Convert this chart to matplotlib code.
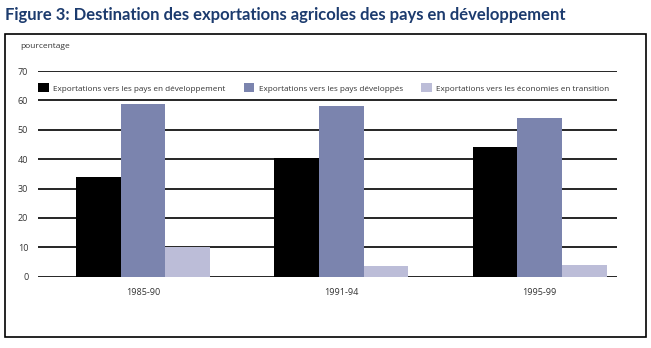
import numpy as np
import matplotlib.pyplot as plt
from matplotlib.patches import Rectangle

# Données
periodes = ["1985-90", "1991-94", "1995-99"]
vers_pays_dev = [34, 40.4, 44.1]
vers_pays_developpes = [58.8, 58.2, 54]
vers_transition = [10.1, 3.6, 4.0]
series_noms = ["Exportations vers les pays en développement",
               "Exportations vers les pays développés",
               "Exportations vers les économies en transition"]
couleurs = ["#000000", "#7b84ae", "#bcbdd8"]

plt.rcParams['font.family'] = ['Open Sans', 'DejaVu Sans']

fig = plt.figure(figsize=(6.51, 3.48), dpi=100)

# Titre et cadre
fig.text(5/651, 1 - 15/348, "Figure 3: Destination des exportations agricoles des pays en développement",
         fontsize=12.0, fontweight='bold', color='#1c3b6e', va='center', ha='left', family=['Lato', 'DejaVu Sans'])
fig.patches.append(Rectangle((5/651, 1 - 337/348), 641/651, 303/348, transform=fig.transFigure,
                             fill=False, edgecolor='black', linewidth=1.2))
fig.text(20/651, 1 - 47/348, "pourcentage", fontsize=6, color='#333333', va='center')

ax = fig.add_axes([38/651, 71.3/348, 579/651, 205.7/348])
x = np.arange(len(periodes))
w = 0.225
for i, vals in enumerate([vers_pays_dev, vers_pays_developpes, vers_transition]):
    ax.bar(x + (i - 1) * w, vals, w, color=couleurs[i], label=series_noms[i], zorder=3)

ax.set_ylim(0, 70)
ax.set_xlim(-0.53, 2.39)
ax.set_yticks(range(0, 71, 10))
for v in range(0, 71, 10):
    ax.axhline(v, color='black', linewidth=1.2, zorder=1)
for s in ax.spines.values():
    s.set_visible(False)
ax.set_xticks(x)
ax.set_xticklabels(periodes)
ax.tick_params(length=0, labelsize=6.5, labelcolor='#333333')
ax.tick_params(axis='y', pad=7)
ax.tick_params(axis='x', pad=8)

leg = ax.legend(loc='upper left', bbox_to_anchor=(-0.012, 0.975), ncol=3, frameon=False,
                fontsize=5.85, handlelength=1.3, handleheight=1.3, columnspacing=2.3,
                handletextpad=0.5, labelcolor='#333333')

fig.savefig("out.png", dpi=100)
